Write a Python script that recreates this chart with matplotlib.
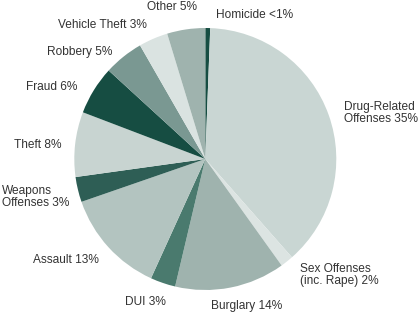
import matplotlib
matplotlib.use('Agg')
import matplotlib.pyplot as plt

plt.rcParams['font.family'] = ['Liberation Sans', 'DejaVu Sans']

# slice shares (clockwise from 12 o'clock)
categories = ['Homicide', 'Drug-Related', 'Sex Offenses', 'Burglary', 'DUI', 'Assault',
              'Weapons', 'Theft', 'Fraud', 'Robbery', 'Vehicle Theft', 'Other']
shares = [0.6, 37.9, 1.6, 13.6, 3.1, 12.9, 3.1, 8.0, 6.0, 4.9, 3.6, 4.7]
labels = ['Homicide <1%', 'Drug-Related\nOffenses 35%', 'Sex Offenses\n(inc. Rape) 2%',
          'Burglary 14%', 'DUI 3%', 'Assault 13%', 'Weapons\nOffenses 3%', 'Theft 8%',
          'Fraud 6%', 'Robbery 5%', 'Vehicle Theft 3%', 'Other 5%']
colors = ['#164d42', '#c9d6d3', '#dce4e2', '#9fb3ae', '#4a7a6e', '#b3c4c0',
          '#2e5e55', '#c8d4d1', '#164d42', '#7a9892', '#dae3e1', '#9fb3ae']

# label anchor points (pixels, top-left origin) and alignment
label_pos = [(216, 15, 'left'), (344, 113, 'left'), (300, 275, 'left'),
             (211, 306, 'left'), (125, 302, 'left'), (99, 260, 'right'),
             (69, 197, 'right'), (61, 145, 'right'), (77, 87, 'right'),
             (112, 52, 'right'), (147, 25, 'right'), (197, 7, 'right')]

W, H = 418, 315
fig = plt.figure(figsize=(W / 100, H / 100), dpi=100)
ax = fig.add_axes([0, 0, 1, 1])
ax.axis('off')

ax.pie(shares, colors=colors, startangle=90, counterclock=False,
       center=(205.3, H - 159), radius=131, wedgeprops=dict(linewidth=0))
ax.set_xlim(0, W)
ax.set_ylim(0, H)
ax.set_aspect('equal')

for lab, (x, y, ha) in zip(labels, label_pos):
    ax.text(x, H - y, lab, ha=ha, va='center', multialignment='left',
            fontsize=8.6, color='#333333', linespacing=1.0)

fig.savefig('out.png', dpi=100)
